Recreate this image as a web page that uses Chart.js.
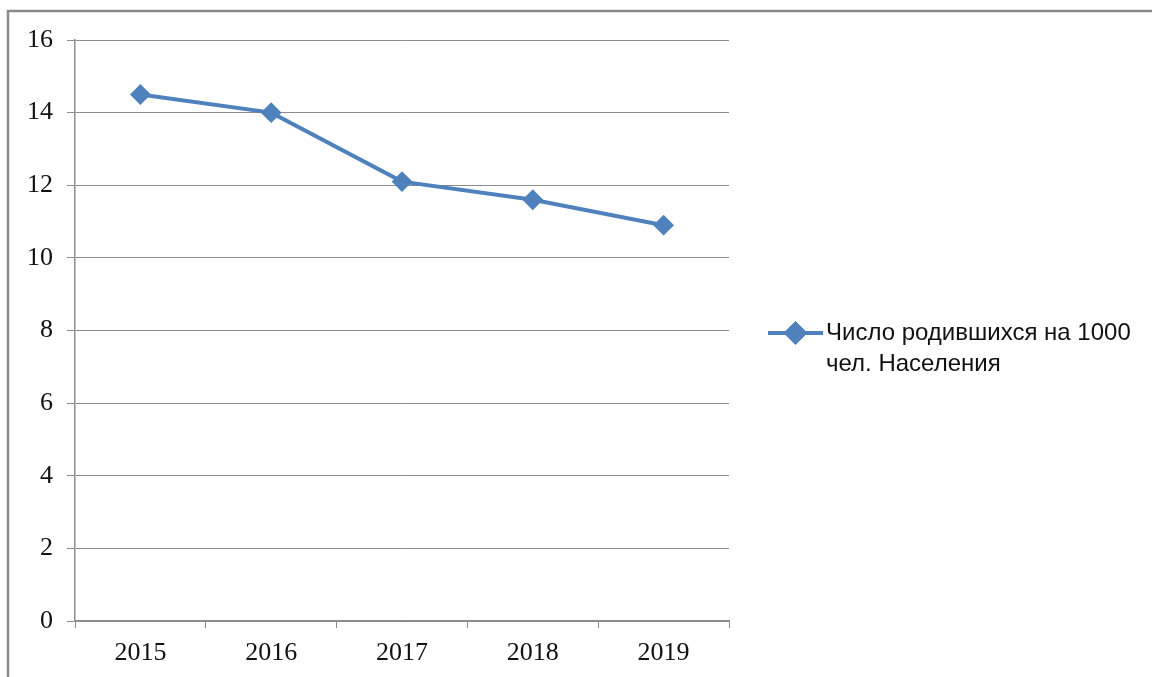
<!DOCTYPE html>
<html>
<head>
<meta charset="utf-8">
<script src="https://cdn.jsdelivr.net/npm/chart.js@4/dist/chart.umd.min.js"></script>
<style>
  html, body { margin: 0; padding: 0; background: #fff; }
  #wrap { width: 1152px; height: 677px; position: relative; }
</style>
</head>
<body>
<div id="wrap"><canvas id="chart" width="1152" height="677"></canvas></div>
<script>
const years = ["2015", "2016", "2017", "2018", "2019"];
const births = [14.5, 14.0, 12.1, 11.6, 10.9];
const seriesLabel = ["Число родившихся на 1000", "чел. Населения"];

const BLUE = "#4f81bd";
const GRID = "#8c8c8c";

// frame around the whole chart, like the office chart border
const framePlugin = {
  id: "frame",
  beforeDraw(chart) {
    const ctx = chart.ctx;
    ctx.save();
    ctx.strokeStyle = "#8a8a8a";
    ctx.lineWidth = 2.5;
    ctx.strokeRect(8, 11, 2000, 2000);
    ctx.restore();
  },
};

// legend on the right, two-line label
const sideLegend = {
  id: "sideLegend",
  afterDraw(chart) {
    const ctx = chart.ctx;
    const ds = chart.data.datasets[0];
    const x0 = 768, x1 = 823, y = 333;
    ctx.save();
    ctx.strokeStyle = ds.borderColor;
    ctx.lineWidth = ds.borderWidth;
    ctx.beginPath();
    ctx.moveTo(x0, y);
    ctx.lineTo(x1, y);
    ctx.stroke();
    ctx.fillStyle = ds.backgroundColor;
    Chart.helpers.drawPoint(ctx, { pointStyle: "rectRot", radius: 9, borderWidth: 2 }, (x0 + x1) / 2, y);
    ctx.fill();
    ctx.stroke();
    ctx.fillStyle = "#111";
    ctx.font = "24px 'Liberation Sans', Arial, sans-serif";
    ctx.textBaseline = "middle";
    ctx.textAlign = "left";
    ds.label.forEach((t, i) => ctx.fillText(t, 826, y + i * 31));
    ctx.restore();
  },
};

new Chart(document.getElementById("chart"), {
  type: "line",
  data: {
    labels: years,
    datasets: [
      {
        label: seriesLabel,
        data: births,
        borderColor: BLUE,
        backgroundColor: BLUE,
        borderWidth: 4,
        pointStyle: "rectRot",
        pointRadius: 9,
        pointBorderWidth: 2,
        pointBackgroundColor: BLUE,
        pointBorderColor: BLUE,
        tension: 0,
      },
    ],
  },
  options: {
    responsive: false,
    animation: false,
    layout: { padding: { top: 40, right: 423, left: 0, bottom: 0 } },
    plugins: {
      legend: { display: false },
      tooltip: { enabled: false },
    },
    scales: {
      x: {
        offset: true,
        afterFit(axis) { axis.height = 56; },
        grid: {
          offset: true,
          drawOnChartArea: false,
          drawTicks: true,
          tickLength: 7,
          color: GRID,
        },
        border: { display: true, color: GRID, width: 1.5 },
        ticks: {
          color: "#111",
          padding: 10,
          font: { family: "'Liberation Serif', 'Times New Roman', serif", size: 26 },
        },
      },
      y: {
        min: 0,
        max: 16,
        afterFit(axis) { axis.width = 75; },
        grid: { color: GRID, tickLength: 8, lineWidth: 1 },
        border: { display: true, color: GRID, width: 1.5 },
        ticks: {
          stepSize: 2,
          color: "#111",
          padding: 14,
          font: { family: "'Liberation Serif', 'Times New Roman', serif", size: 26 },
        },
      },
    },
  },
  plugins: [framePlugin, sideLegend],
});
</script>
</body>
</html>
